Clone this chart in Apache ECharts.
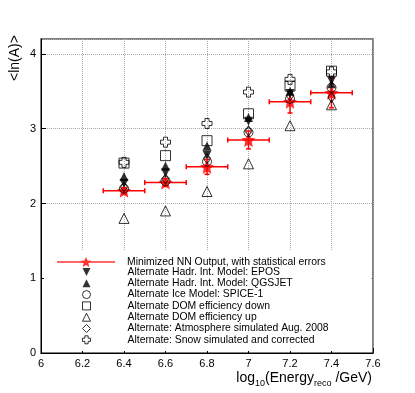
<!DOCTYPE html>
<html>
<head>
<meta charset="utf-8">
<script src="https://cdn.jsdelivr.net/npm/echarts@6/dist/echarts.min.js"></script>
<style>
	html, body { margin: 0; padding: 0; background: #fff; }
	#chart { width: 415px; height: 393px; }
</style>
</head>
<body>
<div id="chart"></div>
<script>
// log10(E_reco/GeV) bin centres and half widths
const energies = [6.4, 6.6, 6.8, 7.0, 7.2, 7.4];
const binHalfWidth = [0.1, 0.1, 0.1, 0.1, 0.1, 0.1];

// <ln(A)> per bin
const nnOutput = [2.17, 2.28, 2.49, 2.85, 3.36, 3.48];
const nnStatErr = [0.04, 0.05, 0.1, 0.12, 0.15, 0.2];
const hadrEpos = [2.27, 2.41, 2.65, 3.1, 3.47, 3.64];
const hadrQgsjet = [2.36, 2.5, 2.77, 3.15, 3.5, 3.6];
const iceSpice1 = [2.2, 2.3, 2.56, 2.95, 3.4, 3.55];
const domEffDown = [2.54, 2.64, 2.84, 3.2, 3.57, 3.77];
const domEffUp = [1.8, 1.9, 2.16, 2.53, 3.04, 3.32];
const atmosAug2008 = [2.22, 2.33, 2.6, 2.97, 3.44, 3.42];
const snowCorrected = [2.55, 2.82, 3.07, 3.49, 3.66, 3.76];

const labels = [
	'Minimized NN Output, with statistical errors',
	'Alternate Hadr. Int. Model: EPOS',
	'Alternate Hadr. Int. Model: QGSJET',
	'Alternate Ice Model: SPICE-1',
	'Alternate DOM efficiency down',
	'Alternate DOM efficiency up',
	'Alternate: Atmosphere simulated Aug. 2008',
	'Alternate: Snow simulated and corrected'
];

const font = 'Liberation Sans, Arial, Helvetica, sans-serif';
const plusPath = 'path://M3,0 L7,0 L7,3 L10,3 L10,7 L7,7 L7,10 L3,10 L3,7 L0,7 L0,3 L3,3 Z';
const downTriPath = 'path://M0,0 L10,0 L5,10 Z';
const starPath = 'M280,0 L298,40 L341.8,44.9 L309,74 L318.2,117.6 L280,95 L241.8,117.6 L251,74 L218.2,44.9 L262,40 Z';
// red line with a star, used only as legend icon of the main series (58x10 box)
const lineStarPath = 'M0,51 L682,51 L682,68 L0,68 Z ' +
	'M341,0 L359,40 L402.8,44.9 L370,74 L379.2,117.6 L341,95 L302.8,117.6 L312,74 L279.2,44.9 L323,40 Z';

function pairs(ys) {
	return energies.map((x, i) => [x, ys[i]]);
}

function errorBars(params, api) {
	const x = api.value(0), y = api.value(1), ex = api.value(2), ey = api.value(3);
	const l = api.coord([x - ex, y]);
	const r = api.coord([x + ex, y]);
	const t = api.coord([x, y + ey]);
	const b = api.coord([x, y - ey]);
	const c = 2.5;
	const style = { stroke: '#ff0000', lineWidth: 1.5 };
	const line = (x1, y1, x2, y2) => ({ type: 'line', shape: { x1: x1, y1: y1, x2: x2, y2: y2 }, style: style });
	return {
		type: 'group',
		children: [
			line(l[0], l[1], r[0], r[1]),
			line(l[0], l[1] - c, l[0], l[1] + c),
			line(r[0], r[1] - c, r[0], r[1] + c),
			line(t[0], t[1], b[0], b[1]),
			line(t[0] - c, t[1], t[0] + c, t[1]),
			line(b[0] - c, b[1], b[0] + c, b[1])
		]
	};
}

function markers(name, ys, symbol, size, filled) {
	return {
		name: name,
		type: 'scatter',
		data: pairs(ys),
		symbol: symbol,
		symbolSize: size,
		itemStyle: filled
			? { color: '#000' }
			: { color: 'rgba(0,0,0,0)', borderColor: '#000', borderWidth: 1 }
	};
}

var chart = echarts.init(document.getElementById('chart'));

var legendText = { color: '#000', fontSize: 10.4, fontFamily: font, lineHeight: 10 };

var option = {
	animation: false,
	backgroundColor: '#fff',
	textStyle: { fontFamily: font },
	grid: {
		left: 41,
		right: 42,
		top: 39,
		bottom: 40,
		show: true,
		borderColor: '#555',
		borderWidth: 1.5
	},
	xAxis: {
		type: 'value',
		min: 6,
		max: 7.6,
		interval: 0.2,
		axisLine: { onZero: false, lineStyle: { color: '#000', width: 1 } },
		axisTick: { inside: true, length: 5, lineStyle: { color: '#000' } },
		axisLabel: {
			color: '#000',
			fontSize: 11,
			fontFamily: font,
			margin: 5,
			formatter: v => String(Math.round(v * 10) / 10)
		},
		splitLine: { show: true, lineStyle: { color: '#aaa', type: [1, 1], width: 1 } }
	},
	yAxis: {
		type: 'value',
		min: 0,
		max: 4.2,
		interval: 1,
		axisLine: { show: true, lineStyle: { color: '#000', width: 1 } },
		axisTick: { show: true, inside: true, length: 5, lineStyle: { color: '#000' } },
		axisLabel: {
			color: '#000',
			fontSize: 11,
			fontFamily: font,
			margin: 5,
			showMaxLabel: false,
			formatter: v => Number.isInteger(v) ? String(v) : ''
		},
		splitLine: { show: true, lineStyle: { color: '#aaa', type: [1, 1], width: 1 } }
	},
	legend: [
		{
			data: [labels[0]],
			orient: 'vertical',
			left: 57,
			top: 257,
			itemWidth: 58,
			itemHeight: 10,
			padding: 0,
			icon: 'path://' + lineStarPath,
			selectedMode: false,
			textStyle: Object.assign({}, legendText, { padding: [0, 0, 0, 7] })
		},
		{
			data: labels.slice(1),
			orient: 'vertical',
			left: 82,
			top: 267,
			itemWidth: 8,
			itemHeight: 8,
			itemGap: 1.3,
			padding: 0,
			selectedMode: false,
			itemStyle: { borderWidth: 1 },
			textStyle: Object.assign({}, legendText, { padding: [0, 0, 0, 32] })
		}
	],
	graphic: [
		{
			// legend box covers the grid lines
			type: 'rect',
			z: 1,
			shape: { x: 44, y: 251, width: 327, height: 100 },
			style: { fill: '#fff' }
		},
		{
			type: 'text',
			x: 15,
			y: 58,
			rotation: Math.PI / 2,
			style: {
				text: '<ln(A)>',
				fontSize: 14,
				fontFamily: font,
				fill: '#000',
				align: 'center',
				verticalAlign: 'middle'
			}
		},
		{
			type: 'text',
			right: 43,
			top: 371,
			style: {
				text: '{a|log}{s|10}{a|(Energy}{s|reco}{a| /GeV)}',
				fill: '#000',
				rich: {
					a: { fontSize: 14, fontFamily: font, lineHeight: 18, verticalAlign: 'top' },
					s: { fontSize: 9, fontFamily: font, lineHeight: 18, verticalAlign: 'top', padding: [8, 0, 0, 0] }
				}
			}
		}
	],
	series: [
		{
			name: labels[0] + ' errors',
			type: 'custom',
			renderItem: errorBars,
			data: energies.map((x, i) => [x, nnOutput[i], binHalfWidth[i], nnStatErr[i]]),
			z: 2
		},
		{
			name: labels[0],
			type: 'scatter',
			data: pairs(nnOutput),
			symbol: 'path://' + starPath,
			symbolSize: 14,
			itemStyle: { color: '#ff0000' },
			z: 2
		},
		markers(labels[1], hadrEpos, downTriPath, 9, true),
		markers(labels[2], hadrQgsjet, 'triangle', 9, true),
		markers(labels[3], iceSpice1, 'circle', 9, false),
		markers(labels[4], domEffDown, 'rect', 10, false),
		markers(labels[5], domEffUp, 'triangle', 10, false),
		markers(labels[6], atmosAug2008, 'diamond', [7, 10], false),
		markers(labels[7], snowCorrected, plusPath, 10, false)
	]
};

chart.setOption(option);
</script>
</body>
</html>
